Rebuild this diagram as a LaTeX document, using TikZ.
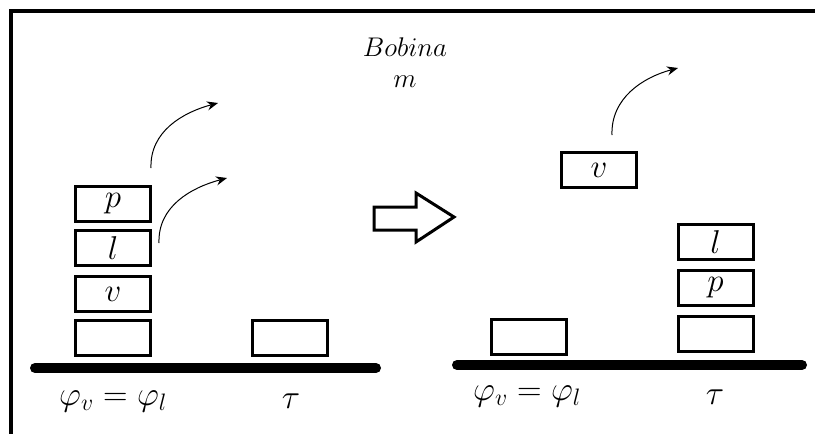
\RequirePackage{fix-cm}
\documentclass[tikz,border=0pt]{standalone}
\usetikzlibrary{arrows.meta}
\begin{document}
\begin{tikzpicture}[x=1pt,y=-1pt,
  blk/.style={draw,line width=3pt,minimum width=75pt,minimum height=35pt,inner sep=0pt,font=\fontsize{33}{33}\selectfont},
  ground/.style={line width=10pt,line cap=round},
  flow/.style={-{Stealth[length=11pt,width=9pt]},line width=1pt},
  lbl/.style={inner sep=0pt,font=\fontsize{34}{34}\selectfont},
  ttl/.style={inner sep=0pt,font=\fontsize{27}{27}\selectfont}]
\useasboundingbox (0,0) rectangle (815,434);
\fill[white] (0,0) rectangle (815,434);
% frame
\draw[line width=4pt] (10.5,434) -- (10.5,11) -- (815,11);
% title
\node[ttl] (title) at (405,47) {$Bobina$};
\node[ttl] (m) at (405,82) {$m$};
% left scene
\node[blk] (L0) at (113,338) {};
\node[blk] (Lv) at (113,294) {$v$};
\node[blk] (Ll) at (113,248) {$l$};
\node[blk] (Lp) at (113,204) {$p$};
\node[blk] (Lt) at (289.5,338) {};
\coordinate (g1a) at (35,368);
\coordinate (g1b) at (376,368);
\draw[ground] (g1a) -- (g1b);
\node[lbl] (eqL) at (113,401) {$\varphi_v=\varphi_l$};
\node[lbl] (tauL) at (291,401) {$\tau$};
\coordinate (a1s) at (151,168);
\coordinate (a1e) at (218,103);
\coordinate (a2s) at (159,243);
\coordinate (a2e) at (227,178);
\draw[flow] (a1s) to[out=92,in=195] (a1e);
\draw[flow] (a2s) to[out=92,in=195] (a2e);
% big arrow
\draw[line width=3pt,line join=miter] (374,207) -- (416,207) -- (416,193) -- (454,217) -- (416,242) -- (416,230) -- (374,230) -- cycle;
% right scene
\node[blk] (Rv) at (599,170) {$v$};
\node[blk] (R0) at (529,336.5) {};
\node[blk] (Rt0) at (715.5,334) {};
\node[blk] (Rp) at (715.5,288) {$p$};
\node[blk] (Rl) at (715.5,242) {$l$};
\coordinate (g2a) at (457,365);
\coordinate (g2b) at (802,365);
\draw[ground] (g2a) -- (g2b);
\node[lbl] (eqR) at (527,396) {$\varphi_v=\varphi_l$};
\node[lbl] (tauR) at (715,397) {$\tau$};
\coordinate (a3s) at (612,135);
\coordinate (a3e) at (678,68);
\draw[flow] (a3s) to[out=92,in=195] (a3e);
\end{tikzpicture}
\end{document}
